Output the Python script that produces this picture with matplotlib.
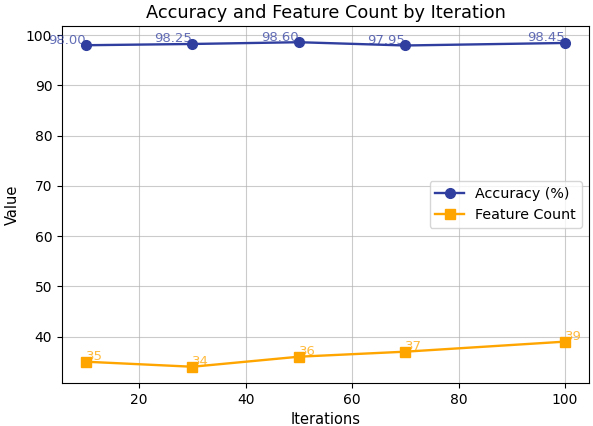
import matplotlib
matplotlib.use("Agg")
import matplotlib.pyplot as plt

iterations = [10, 30, 50, 70, 100]
accuracy = [98.00, 98.25, 98.60, 97.95, 98.45]
feature_count = [35, 34, 36, 37, 39]

blue = '#303F9F'
orange = '#FFA500'

fig, ax = plt.subplots(figsize=(5.93, 4.26), dpi=100)
fig.subplots_adjust(left=0.1046, right=0.9933, top=0.939, bottom=0.101)
ax.plot(iterations, accuracy, marker='o', color=blue, label='Accuracy (%)',
        linewidth=1.7, markersize=7)
ax.plot(iterations, feature_count, marker='s', color=orange, label='Feature Count',
        linewidth=1.7, markersize=7)

for x, y in zip(iterations, accuracy):
    ax.text(x, y - 0.3, f'{y:.2f}', ha='right', va='bottom', color=blue, alpha=0.75, fontsize=9.5)
for x, y in zip(iterations, feature_count):
    ax.text(x, y - 0.3, f'{y}', ha='left', va='bottom', color=orange, alpha=0.75, fontsize=9.5)

ax.set_title('Accuracy and Feature Count by Iteration', fontsize=12.8)
ax.set_xlabel('Iterations', fontsize=10.5)
ax.set_ylabel('Value', fontsize=10.5)
ax.grid(True, alpha=0.65)
ax.legend(loc='center right', fontsize=10.3)
fig.savefig('out.png', dpi=100)
